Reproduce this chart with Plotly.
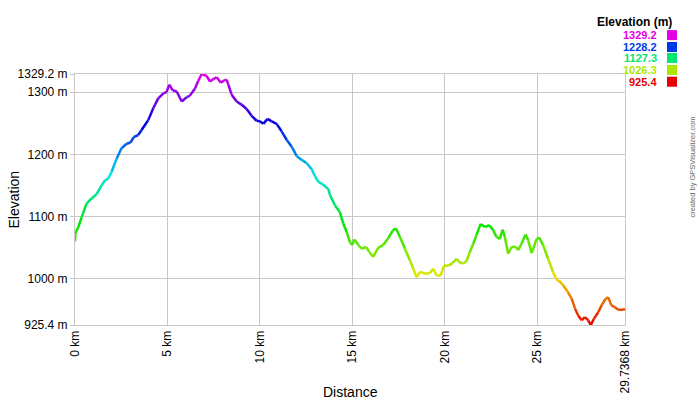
import colorsys
import plotly.graph_objects as go

# ---- data ----
distance_km = [0, 0.02, 0.18, 0.36, 0.63, 0.9, 1.17, 1.44, 1.62, 1.8, 1.98, 2.25, 2.52, 2.79, 3.0,
               3.19, 3.42, 3.6, 3.96, 4.23, 4.5, 4.78, 4.95, 5.1, 5.28, 5.5, 5.77, 6.04, 6.2, 6.49,
               6.66, 6.85, 7.12, 7.3, 7.48, 7.66, 7.89, 8.07, 8.2, 8.29, 8.47, 8.74, 9.0, 9.28, 9.55,
               9.82, 10.0, 10.18, 10.41, 10.63, 10.9, 11.17, 11.45, 11.72, 11.99, 12.26, 12.52, 12.8,
               12.97, 13.15, 13.42, 13.7, 13.78, 14.05, 14.32, 14.5, 14.69, 14.86, 14.99, 15.1, 15.32,
               15.5, 15.73, 15.91, 16.12, 16.4, 16.66, 16.94, 17.17, 17.35, 17.57, 17.84, 18.1, 18.29,
               18.47, 18.65, 18.92, 19.19, 19.37, 19.55, 19.77, 19.95, 20.18, 20.41, 20.63, 20.77,
               20.96, 21.17, 21.35, 21.53, 21.71, 21.93, 22.16, 22.4, 22.61, 22.79, 22.97, 23.12,
               23.24, 23.42, 23.6, 23.84, 23.96, 24.14, 24.36, 24.5, 24.69, 24.96, 25.1, 25.31, 25.58,
               25.85, 26.07, 26.2, 26.4, 26.66, 26.85, 27.03, 27.2, 27.39, 27.57, 27.75, 27.89, 28.05,
               28.29, 28.47, 28.7, 28.83, 29.0, 29.19, 29.37, 29.64, 29.7368]
elevation_m = [1060, 1073, 1083, 1099, 1121, 1129, 1136, 1150, 1158, 1161, 1172, 1193, 1210, 1217, 1219,
               1228, 1231, 1239, 1255, 1274, 1290, 1298, 1300, 1312, 1303, 1301, 1285, 1292, 1294, 1306,
               1318, 1329.2, 1326, 1317, 1321, 1324, 1315, 1319, 1320, 1312, 1296, 1285, 1280, 1273, 1262,
               1254, 1253, 1249, 1257, 1253, 1249, 1237, 1223, 1212, 1197, 1191, 1186, 1176,
               1165, 1156, 1151, 1144, 1135, 1118, 1107, 1089, 1075, 1059, 1054, 1063, 1054,
               1048, 1051, 1043, 1035, 1050, 1054, 1065, 1077, 1081, 1067, 1048, 1030, 1016,
               1002, 1011, 1008, 1009, 1016, 1005, 1005, 1021, 1021, 1025, 1032, 1027,
               1024, 1028, 1043, 1056, 1070, 1088, 1083, 1086, 1078, 1067, 1064, 1079,
               1067, 1040, 1051, 1051, 1046, 1056, 1071, 1062, 1041, 1064, 1066, 1054, 1032,
               1010, 997, 996, 989, 978, 968, 952, 941, 933, 938, 933, 925.4, 935,
               946, 957, 968, 970, 957, 954, 950, 950, 951]

y_min, y_max = 925.4, 1329.2
total_km = 29.7368
x_tick_vals = [0, 5, 10, 15, 20, 25, total_km]
x_tick_text = ["0 km", "5 km", "10 km", "15 km", "20 km", "25 km", "29.7368 km"]
y_tick_vals = [925.4, 1000, 1100, 1200, 1300, 1329.2]
y_tick_text = ["925.4 m", "1000 m", "1100 m", "1200 m", "1300 m", "1329.2 m"]
legend_vals = [1329.2, 1228.2, 1127.3, 1026.3, 925.4]
legend_text = ["1329.2", "1228.2", "1127.3", "1026.3", "925.4"]

FONT = "Arial, 'Liberation Sans', sans-serif"


def elev_color(v):
    t = (v - y_min) / (y_max - y_min)
    t = min(max(t, 0), 1)
    r, g, b = colorsys.hsv_to_rgb(t * 300 / 360.0, 1.0, 0.9)
    return "rgb(%d,%d,%d)" % (round(r * 255), round(g * 255), round(b * 255))


fig = go.Figure()
for i in range(len(distance_km) - 1):
    mid = (elevation_m[i] + elevation_m[i + 1]) / 2
    fig.add_trace(go.Scatter(
        x=distance_km[i:i + 2], y=elevation_m[i:i + 2], mode="lines",
        line=dict(color=elev_color(mid), width=2.5),
        showlegend=False, hoverinfo="skip"))

grid = "#c8c8c8"
fig.update_xaxes(range=[0, total_km], tickvals=x_tick_vals, ticktext=x_tick_text,
                 tickangle=-90, showgrid=True, gridcolor=grid, gridwidth=1,
                 showline=True, linecolor=grid, mirror=True, zeroline=False,
                 automargin=False,
                 ticks="", tickfont=dict(family=FONT, size=12, color="#000"))
fig.update_yaxes(range=[y_min, y_max], tickvals=y_tick_vals, ticktext=y_tick_text,
                 showgrid=True, gridcolor=grid, gridwidth=1,
                 showline=True, linecolor=grid, mirror=True, zeroline=False,
                 automargin=False,
                 ticks="outside", ticklen=4, tickcolor=grid,
                 tickfont=dict(family=FONT, size=12, color="#000"))

annotations = [
    dict(text="Elevation", x=-0.1127, y=0.5, xref="paper", yref="paper", textangle=-90,
         showarrow=False, xanchor="center", yanchor="middle",
         font=dict(family=FONT, size=14, color="#000")),
    dict(text="Distance", x=0.5, y=-0.267, xref="paper", yref="paper",
         showarrow=False, xanchor="center", yanchor="middle",
         font=dict(family=FONT, size=14, color="#000")),
    dict(text="created by GPSVisualizer.com", x=1.1236, y=0.631, xref="paper", yref="paper",
         textangle=-90, showarrow=False, xanchor="center", yanchor="middle",
         font=dict(family=FONT, size=7.5, color="#666")),
    dict(text="<b>Elevation (m)</b>", x=1.089, y=1.208, xref="paper", yref="paper",
         showarrow=False, xanchor="right", yanchor="middle",
         font=dict(family=FONT, size=12, color="#000")),
]
shapes = []
legend_y = [1.155, 1.1076, 1.0637, 1.016, 0.9693]
for v, txt, ly in zip(legend_vals, legend_text, legend_y):
    c = elev_color(v)
    annotations.append(dict(text="<b>%s</b>" % txt, x=1.0618, y=ly, xref="paper", yref="paper",
                            showarrow=False, xanchor="right", yanchor="middle",
                            font=dict(family=FONT, size=11, color=c)))
    shapes.append(dict(type="rect", xref="paper", yref="paper",
                       x0=(667 - 75) / 550, x1=(677 - 75) / 550,
                       y0=ly - 5 / 251, y1=ly + 5 / 251,
                       fillcolor=c, line=dict(width=0)))

fig.update_layout(width=700, height=400, margin=dict(l=75, r=75, t=74, b=75),
                  plot_bgcolor="white", paper_bgcolor="white",
                  annotations=annotations, shapes=shapes, showlegend=False)

fig.write_html("out.html", config={"displayModeBar": False},
               post_script="document.body.style.margin='0';")
